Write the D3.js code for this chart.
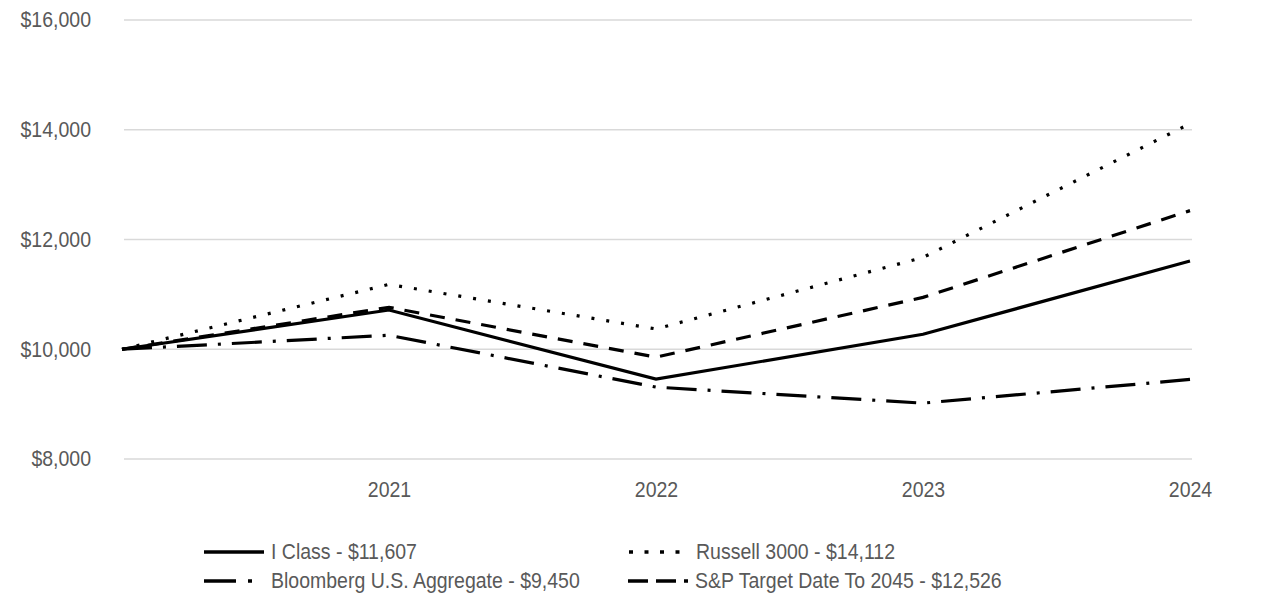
<!DOCTYPE html>
<html><head><meta charset="utf-8">
<script src="https://cdn.jsdelivr.net/npm/d3@7"></script>
<style>
html,body{margin:0;padding:0;background:#fff;}
svg text{font-family:"Liberation Sans",Arial,sans-serif;fill:#595959;}
</style></head>
<body><svg id="c" width="1286" height="614"></svg>
<script>
const periods = ["2020", "2021", "2022", "2023", "2024"];
const tickLabels = ["2021", "2022", "2023", "2024"];
const yTicks = [8000, 10000, 12000, 14000, 16000];
const iClass = [10000, 10715, 9455, 10273, 11607];
const russell = [10000, 11182, 10370, 11673, 14112];
const bloomberg = [10000, 10255, 9310, 9018, 9450];
const spTarget = [10000, 10764, 9855, 10945, 12526];
const seriesNames = ["I Class - $11,607", "Russell 3000 - $14,112", "Bloomberg U.S. Aggregate - $9,450", "S&P Target Date To 2045 - $12,526"];

const series = [
  {name: seriesNames[0], values: iClass, dash: null, ldash: null},
  {name: seriesNames[1], values: russell, dash: "3,12", ldash: "4,11.5"},
  {name: seriesNames[2], values: bloomberg, dash: "30,11,3,11", ldash: "32,12,4,20"},
  {name: seriesNames[3], values: spTarget, dash: "15,11", ldash: "20,8,20,8,4,20"}
];

const svg = d3.select("#c");
const x = d3.scalePoint().domain(periods).range([122, 1190]);
const y = d3.scaleLinear().domain([8000, 16000]).range([459, 20]);
const FS = 19.5, SY = 1.13;

// gridlines
svg.append("g").selectAll("line").data(yTicks).join("line")
  .attr("x1", 124).attr("x2", 1192)
  .attr("y1", d => y(d)).attr("y2", d => y(d))
  .attr("stroke", "#d9d9d9").attr("stroke-width", 1.5);

// y axis labels
const yAxis = d3.axisLeft(y).tickValues(yTicks).tickSize(0).tickPadding(0)
  .tickFormat(d => "$" + d3.format(",")(d));
const gy = svg.append("g").attr("transform", "translate(91,0)").call(yAxis);
gy.select(".domain").remove();
gy.selectAll("text").attr("font-size", FS).attr("dy", (0.35 / SY) + "em").attr("x", 0)
  .attr("transform", `scale(1,${SY})`).style("fill", "#595959")
  .attr("font-family", "Liberation Sans, Arial, sans-serif");

// x axis labels
const xAxis = d3.axisBottom(x).tickValues(tickLabels).tickSize(0).tickPadding(0);
const gx = svg.append("g").attr("transform", "translate(0,490)").call(xAxis);
gx.select(".domain").remove();
gx.selectAll("text").attr("font-size", FS).attr("y", 0).attr("dy", (0.35 / SY) + "em")
  .attr("transform", `scale(1,${SY})`).style("fill", "#595959")
  .attr("font-family", "Liberation Sans, Arial, sans-serif");

// lines
const line = d3.line().x((d, i) => x(periods[i])).y(d => y(d));
svg.append("g").selectAll("path").data(series).join("path")
  .attr("d", d => line(d.values))
  .attr("fill", "none").attr("stroke", "#000").attr("stroke-width", 3.2)
  .attr("stroke-dasharray", d => d.dash)
  .attr("stroke-linejoin", "miter");

// legend
const legendPos = [[204, 552], [629, 552], [204, 581], [628, 581]];
const lg = svg.append("g").selectAll("g").data(series).join("g")
  .attr("transform", (d, i) => `translate(${legendPos[i][0]},${legendPos[i][1]})`);
lg.append("line").attr("x1", 0).attr("x2", 60).attr("y1", 0).attr("y2", 0)
  .attr("stroke", "#000").attr("stroke-width", 3.4)
  .attr("stroke-dasharray", d => d.ldash);
lg.append("text").attr("x", 67).attr("y", 0).attr("dy", (0.35 / SY) + "em")
  .attr("transform", `scale(1,${SY})`)
  .attr("font-size", FS).text(d => d.name);
</script></body></html>
